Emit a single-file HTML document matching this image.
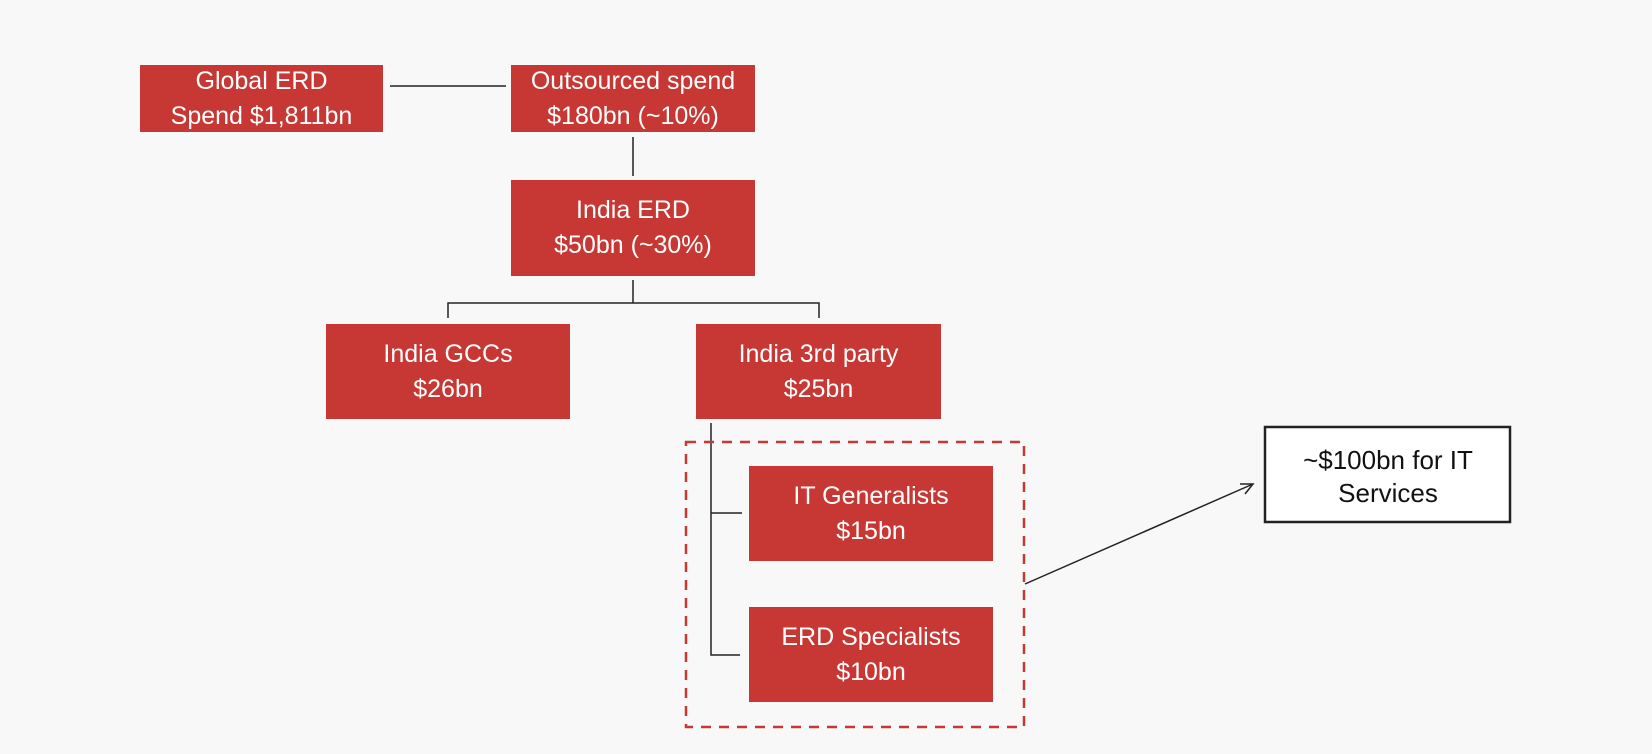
<!DOCTYPE html>
<html><head><meta charset="utf-8"><style>
html,body{margin:0;padding:0;background:#f8f8f8;width:1652px;height:754px;overflow:hidden;position:relative;font-family:"Liberation Sans",sans-serif;}
.b{position:absolute;background:#c73835;color:#fff;display:flex;align-items:center;justify-content:center;text-align:center;font-size:25px;line-height:35px;white-space:nowrap;}
</style></head><body>
<svg width="1652" height="754" style="position:absolute;left:0;top:0">
<g stroke="#222" stroke-width="1.5" fill="none">
<line x1="390" y1="86" x2="506" y2="86"/>
<line x1="633" y1="137" x2="633" y2="176"/>
<line x1="633" y1="280" x2="633" y2="303"/>
<polyline points="448,318 448,303 819,303 819,318"/>
<polyline points="711,423 711,655 740,655"/>
<line x1="711" y1="513" x2="742" y2="513"/>
<line x1="1025" y1="584" x2="1253" y2="484"/>
<polyline points="1240,484 1253,484 1245,494"/>
</g>
<rect x="686" y="442" width="338" height="285" fill="none" stroke="#c73835" stroke-width="2.5" stroke-dasharray="10,8"/>
<rect x="1265" y="427" width="245" height="95" fill="#fff" stroke="#222" stroke-width="2.5"/>
<text x="1388" y="469" font-family="Liberation Sans, sans-serif" font-size="26" text-anchor="middle" fill="#111">~$100bn for IT</text>
<text x="1388" y="502" font-family="Liberation Sans, sans-serif" font-size="26" text-anchor="middle" fill="#111">Services</text>
</svg>
<div class="b" style="left:140px;top:65px;width:243px;height:67px">Global ERD<br>Spend $1,811bn</div>
<div class="b" style="left:511px;top:65px;width:244px;height:67px">Outsourced spend<br>$180bn (~10%)</div>
<div class="b" style="left:511px;top:180px;width:244px;height:96px">India ERD<br>$50bn (~30%)</div>
<div class="b" style="left:326px;top:324px;width:244px;height:95px">India GCCs<br>$26bn</div>
<div class="b" style="left:696px;top:324px;width:245px;height:95px">India 3rd party<br>$25bn</div>
<div class="b" style="left:749px;top:466px;width:244px;height:95px">IT Generalists<br>$15bn</div>
<div class="b" style="left:749px;top:607px;width:244px;height:95px">ERD Specialists<br>$10bn</div>
</body></html>
